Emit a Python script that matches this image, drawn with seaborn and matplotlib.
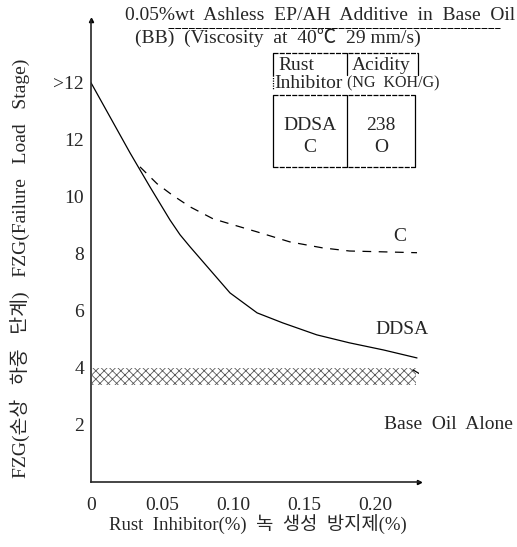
import matplotlib
matplotlib.use("Agg")
import numpy as np
import matplotlib.pyplot as plt
import seaborn as sns
from matplotlib.lines import Line2D

# --- data ---
ddsa_x = [0.0, 0.0275, 0.0415, 0.0556, 0.0627, 0.0697, 0.0838, 0.0979,
          0.117, 0.135, 0.159, 0.182, 0.206, 0.2296]
ddsa_y = [14.0, 11.54, 10.35, 9.19, 8.67, 8.25, 7.44, 6.63,
          5.93, 5.58, 5.16, 4.88, 4.63, 4.35]

c_x = [0.0345, 0.0465, 0.057, 0.0697, 0.0859, 0.10, 0.117, 0.14,
       0.163, 0.182, 0.206, 0.2296]
c_y = [11.05, 10.46, 10.07, 9.65, 9.23, 9.02, 8.77, 8.42,
       8.21, 8.1, 8.07, 8.04]

tail_x = [0.2268, 0.2387]
tail_y = [3.93, 3.58]

base_x = [0.001, 0.229]
base_low = [3.4, 3.4]
base_high = [4.0, 4.0]

xticks = [0, 0.05, 0.10, 0.15, 0.20]
xtick_labels = ["0", "0.05", "0.10", "0.15", "0.20"]
yticks = [2, 4, 6, 8, 10, 12, 14]
ytick_labels = ["2", "4", "6", "8", "10", "12", ">12"]

table_head = [["Rust", "Acidity"], ["Inhibitor", "(NG  KOH/G)"]]
table_rows = [["DDSA", "238"], ["C", "O"]]

sns.set_style("white")
plt.rcParams["font.family"] = ["Liberation Serif", "Noto Sans CJK KR"]
plt.rcParams["hatch.linewidth"] = 0.6

FS = 14
W, H = 517, 547
fig = plt.figure(figsize=(W / 100, H / 100), dpi=100)


def fx(px):
    return px / W


def fy(py):
    return 1 - py / H


ax = fig.add_axes([fx(91), fy(482), fx(419) - fx(91), fy(20) - fy(482)])
ax.set_xlim(0, 0.231)
ax.set_ylim(0, 16.2)

# base oil band
ax.fill_between(base_x, base_low, base_high, facecolor="white",
                edgecolor="0.35", hatch="xxxx", linewidth=0)

sns.lineplot(x=ddsa_x, y=ddsa_y, ax=ax, color="black", linewidth=0.9,
             estimator=None)
sns.lineplot(x=c_x, y=c_y, ax=ax, color="black", linewidth=0.9,
             estimator=None, linestyle=(0, (7, 6)))
sns.lineplot(x=tail_x, y=tail_y, ax=ax, color="black", linewidth=0.9,
             estimator=None)

sns.despine(ax=ax)
for s in ["left", "bottom"]:
    ax.spines[s].set_linewidth(1.2)
ax.plot(1, 0, ">k", transform=ax.transAxes, clip_on=False, markersize=3)
ax.plot(0, 1, "^k", transform=ax.transAxes, clip_on=False, markersize=3)

ax.set_xticks(xticks)
ax.set_xticklabels(xtick_labels)
ax.set_yticks(yticks)
ax.set_yticklabels(ytick_labels)
ax.tick_params(direction="in", length=5, width=0.8, labelsize=FS)
ax.tick_params(axis="x", pad=11)
ax.tick_params(axis="y", pad=5)

# curve labels
ax.text(0.2176, 8.6, "C", fontsize=FS, ha="center", va="center")
ax.text(0.219, 5.33, "DDSA", fontsize=FS, ha="center", va="center")
ax.text(0.2515, 2.0, "Base  Oil  Alone", fontsize=FS, ha="center",
        va="center", clip_on=False)

# axis titles
fig.text(fx(20), fy(268), "FZG(손상   하중   단계)   FZG(Failure   Load   Stage)",
         rotation=90, ha="center", va="center", fontsize=FS)
fig.text(fx(258), fy(525), "Rust  Inhibitor(%)  녹  생성  방지제(%)",
         ha="center", va="center", fontsize=13.5)

# heading
fig.text(fx(125), fy(16), "0.05%wt  Ashless  EP/AH  Additive  in  Base  Oil",
         ha="left", va="center", fontsize=FS)
fig.text(fx(135), fy(38), "(BB)  (Viscosity  at  40℃  29 mm/s)",
         ha="left", va="center", fontsize=FS)
fig.add_artist(Line2D([fx(168), fx(500)], [fy(28), fy(28)], color="black",
                      linewidth=0.7, linestyle=(0, (6, 1))))


# table
def hline(x0, x1, y, ls="-"):
    fig.add_artist(Line2D([fx(x0), fx(x1)], [fy(y), fy(y)], color="black",
                          linewidth=0.9, linestyle=ls))


def vline(x, y0, y1, ls="-"):
    fig.add_artist(Line2D([fx(x), fx(x)], [fy(y0), fy(y1)], color="black",
                          linewidth=0.9, linestyle=ls))


hline(273, 418, 53, ls=(0, (4, 1)))
vline(273, 53, 75)
vline(273, 75, 90, ls=(0, (1, 1)))
vline(347, 53, 75)
vline(418, 53, 75)
hline(273, 415, 95, ls=(0, (4, 1)))
hline(273, 415, 167, ls=(0, (4, 1)))
vline(273, 95, 167)
vline(347, 95, 167)
vline(415, 95, 167)

fig.text(fx(278), fy(66), table_head[0][0], ha="left", va="center", fontsize=FS)
fig.text(fx(352), fy(66), table_head[0][1], ha="left", va="center", fontsize=FS)
fig.text(fx(274), fy(83), table_head[1][0], ha="left", va="center", fontsize=FS)
fig.text(fx(347), fy(83), table_head[1][1], ha="left", va="center", fontsize=11.5)
for i, row in enumerate(table_rows):
    yy = 125 + 22 * i
    fig.text(fx(310), fy(yy), row[0], ha="center", va="center", fontsize=FS)
    fig.text(fx(381), fy(yy), row[1], ha="center", va="center", fontsize=FS)

fig.savefig("out.png", dpi=100)
